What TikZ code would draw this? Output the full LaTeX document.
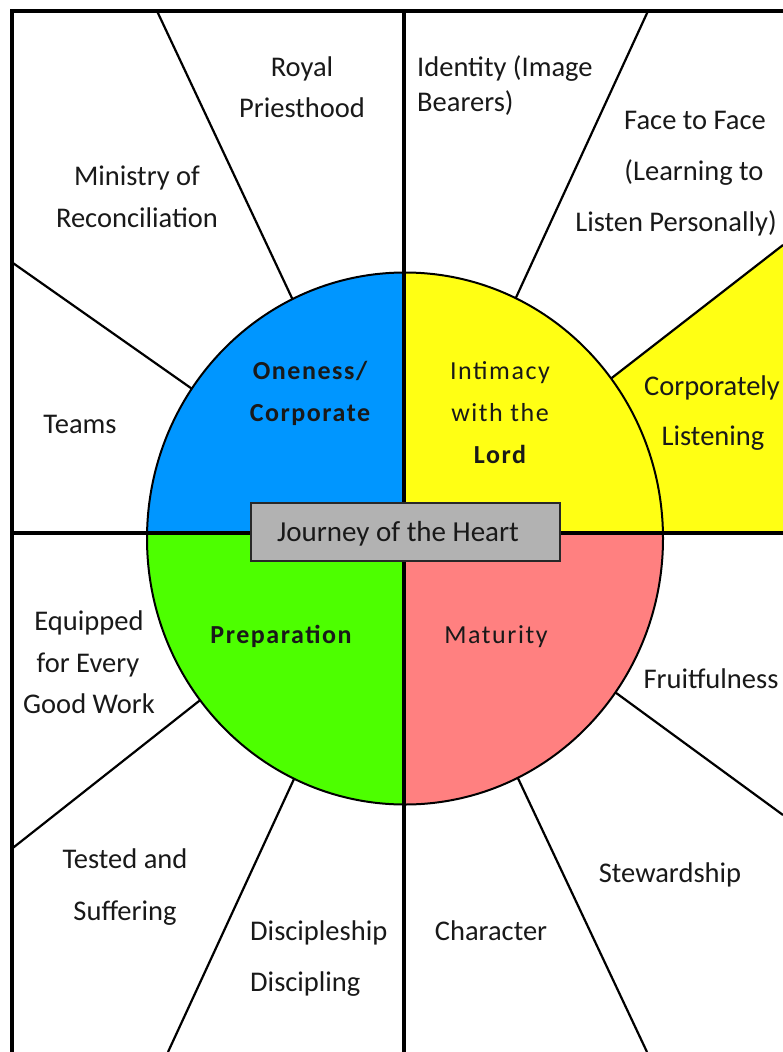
\documentclass[tikz,border=0pt]{standalone}
\usepackage{fontspec}
\setmainfont{Carlito}
\newfontfamily\innerfont[LetterSpace=6]{Carlito}
\definecolor{qblue}{RGB}{0,150,255}
\definecolor{qyellow}{RGB}{255,255,20}
\definecolor{qgreen}{RGB}{77,255,0}
\definecolor{qpink}{RGB}{255,128,128}
\definecolor{qgray}{RGB}{178,178,178}
\definecolor{qdark}{RGB}{40,40,40}
\tikzset{
  lbl/.style={font=\fontsize{28.5}{34}\selectfont, inner sep=0pt, anchor=base, text=black!90},
  lblw/.style={lbl, anchor=base west},
  inlbl/.style={font=\innerfont\fontsize{26}{31}\selectfont, inner sep=0pt, anchor=base, text=black!90},
  inbold/.style={inlbl, font=\innerfont\bfseries\fontsize{26}{31}\selectfont},
  thick line/.style={line width=4pt},
  spoke/.style={line width=2.2pt},
  jbox/.style={draw=qdark, line width=2.5pt, fill=qgray, minimum width=309pt, minimum height=58pt, inner sep=0pt}
}
\begin{document}
\begin{tikzpicture}[x=1pt,y=-1pt]
\useasboundingbox (0,0) rectangle (783,1052);
\fill[white] (0,0) rectangle (783,1052);
\coordinate (c) at (405,538.5);
% outer spoke ends
\coordinate (o1) at (157,11);
\coordinate (o2) at (11.5,262);
\coordinate (o3) at (648,11);
\coordinate (o4) at (783,245);
\coordinate (o5) at (11.5,849);
\coordinate (o6) at (168,1052);
\coordinate (o7) at (647,1052);
\coordinate (o8) at (783,815);
% yellow region on the right
\fill[qyellow] (613,378) -- (o4) -- (783,533) -- (663,533) -- cycle;
% spokes (inner parts hidden by the disc)
\foreach \p in {o1,o2,o3,o4,o5,o6,o7,o8} \draw[spoke] (\p) -- (c);
% disc quadrants
\begin{scope}
  \clip (c) ellipse [x radius=258pt, y radius=266pt];
  \fill[qblue] (100,200) rectangle (404,533);
  \fill[qyellow] (404,200) rectangle (700,533);
  \fill[qgreen] (100,533) rectangle (404,850);
  \fill[qpink] (404,533) rectangle (700,850);
\end{scope}
\draw[line width=2pt] (c) ellipse [x radius=258pt, y radius=266pt];
% frame and axes
\draw[thick line, line join=miter] (11.5,1052) -- (11.5,11) -- (783,11);
\draw[thick line] (404,11) -- (404,1052);
\draw[thick line] (11.5,533) -- (783,533);
% centre box
\node[jbox] (jh) at (405.5,532) {};
\node[lbl, font=\fontsize{29}{34}\selectfont] (jt) at (398,541) {Journey of the Heart};
% outer labels
\node[lbl] (t1a) at (302,76) {Royal};
\node[lbl] (t1b) at (302,117) {Priesthood};
\node[lblw] (t2a) at (417,76) {Identity (Image};
\node[lblw] (t2b) at (417,111) {Bearers)};
\node[lbl] (t3a) at (695,129) {Face to Face};
\node[lbl] (t3b) at (694,180) {(Learning to};
\node[lbl] (t3c) at (676,231) {Listen Personally)};
\node[lbl] (t4a) at (137,185) {Ministry of};
\node[lbl] (t4b) at (137,227) {Reconciliation};
\node[lbl] (t5) at (80,433) {Teams};
\node[lbl] (t6a) at (712,395) {Corporately};
\node[lbl] (t6b) at (713,445) {Listening};
\node[lbl] (t7a) at (89,630) {Equipped};
\node[lbl] (t7b) at (88,672) {for Every};
\node[lbl] (t7c) at (89,713) {Good Work};
\node[lbl] (t8) at (711,688) {Fruitfulness};
\node[lbl] (t9a) at (125,868) {Tested and};
\node[lbl] (t9b) at (125,920) {Suffering};
\node[lbl] (t10) at (670,882) {Stewardship};
\node[lblw] (t11a) at (250,940) {Discipleship};
\node[lblw] (t11b) at (250,991) {Discipling};
\node[lbl] (t12) at (491,940) {Character};
% inner labels
\node[inbold] (q1a) at (310,379) {Oneness/};
\node[inbold] (q1b) at (310,421) {Corporate};
\node[inlbl] (q2a) at (500,379) {Intimacy};
\node[inlbl] (q2b) at (500,421) {with the};
\node[inbold] (q2c) at (500,463) {Lord};
\node[inbold] (q3) at (281,643) {Preparation};
\node[inlbl] (q4) at (496,643) {Maturity};
\end{tikzpicture}
\end{document}
